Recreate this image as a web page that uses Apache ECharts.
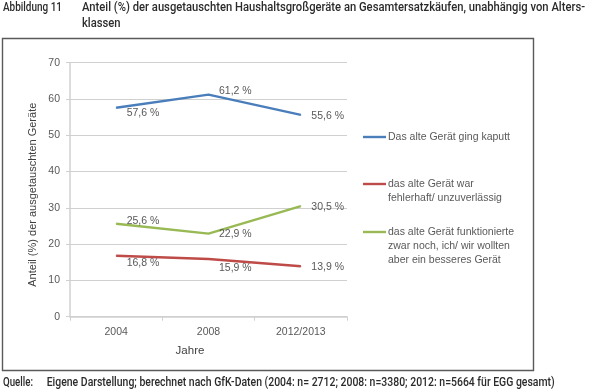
<!DOCTYPE html>
<html><head><meta charset="utf-8">
<script src="https://cdn.jsdelivr.net/npm/echarts@6/dist/echarts.min.js"></script>
<style>html,body{margin:0;padding:0;background:#fff}#c{width:595px;height:389px}</style>
</head><body><div id="c"></div>
<script>
const categories = ['2004', '2008', '2012/2013'];
const seriesNames = [
  'Das alte Gerät ging kaputt',
  'das alte Gerät war\nfehlerhaft/ unzuverlässig',
  'das alte Gerät funktionierte\nzwar noch, ich/ wir wollten\naber ein besseres Gerät'
];
const kaputt = [57.6, 61.2, 55.6];
const fehlerhaft = [16.8, 15.9, 13.9];
const besser = [25.6, 22.9, 30.5];
const yTicks = [0, 70, 10];

const colors = ['#4a7ebb', '#be4b48', '#98b954'];
const labelOffsets = [
  [[4, 5], [4, -4], [4, 1]],
  [[4, 7], [4, 9], [4, 1]],
  [[4, -3], [4, 1], [4, 1]]
];
const bodyFont = 'Liberation Sans';
const headFont = '500 13px Roboto, "DejaVu Sans", sans-serif';

const mctx = document.createElement('canvas').getContext('2d');
function fitScale(text, font, target) {
  mctx.font = font;
  return target / mctx.measureText(text).width;
}

function mkSeries(name, vals, idx) {
  return {
    name: name, type: 'line', data: vals.map((v, i) => ({
      value: v,
      label: { offset: labelOffsets[idx][i] }
    })),
    symbol: 'circle', symbolSize: 1, showSymbol: true,
    lineStyle: { color: colors[idx], width: 2.4 },
    itemStyle: { color: colors[idx] },
    label: {
      show: true, position: 'right', distance: 6,
      formatter: p => p.value.toFixed(1).replace('.', ',') + ' %',
      color: '#595959', fontFamily: bodyFont, fontSize: 10.5
    },
    emphasis: { disabled: true },
    animation: false
  };
}

const legendY = [137, 184, 232];
const legendGraphics = [];
seriesNames.forEach((n, i) => {
  legendGraphics.push({
    type: 'line', shape: { x1: 363, y1: legendY[i], x2: 386, y2: legendY[i] },
    style: { stroke: colors[i], lineWidth: 2.4 }
  });
  legendGraphics.push({
    type: 'text', x: 388, y: legendY[i] - 7,
    style: { text: n, fill: '#595959', font: '10.5px ' + bodyFont, lineHeight: 14, textVerticalAlign: 'top' }
  });
});

const titleLine1 = 'Anteil (%) der ausgetauschten Haushaltsgroßgeräte an Gesamtersatzkäufen, unabhängig von Alters-';
const titleText = titleLine1 + '\nklassen';
const sourceText = 'Eigene Darstellung; berechnet nach GfK-Daten (2004: n= 2712; 2008: n=3380; 2012: n=5664 für EGG gesamt)';
const sTitle = fitScale(titleLine1, headFont, 503);
const sAbb = fitScale('Abbildung 11', headFont, 59);
const sQ = fitScale('Quelle:', headFont, 30);
const sSrc = fitScale(sourceText, headFont, 508);

const chart = echarts.init(document.getElementById('c'), null, { renderer: 'canvas' });
chart.setOption({
  animation: false,
  backgroundColor: '#fff',
  grid: { left: 70, right: 248, top: 62.7, bottom: 72.3 },
  xAxis: {
    type: 'category', data: categories, boundaryGap: true,
    axisLine: { lineStyle: { color: '#d0d0d0', width: 1.5 } },
    axisTick: { show: true, length: 4, lineStyle: { color: '#d0d0d0' } },
    axisLabel: { color: '#595959', fontFamily: bodyFont, fontSize: 10.5, margin: 10 },
    name: 'Jahre', nameLocation: 'middle', nameGap: 28,
    nameTextStyle: { color: '#404040', fontFamily: bodyFont, fontSize: 11.5, padding: [0, 37, 0, 0] }
  },
  yAxis: {
    type: 'value', min: yTicks[0], max: yTicks[1], interval: yTicks[2],
    axisLine: { show: true, lineStyle: { color: '#d0d0d0', width: 1.5 } },
    axisTick: { show: true, length: 4, lineStyle: { color: '#d0d0d0' } },
    splitLine: { lineStyle: { color: '#d0d0d0', width: 1 } },
    axisLabel: { color: '#595959', fontFamily: bodyFont, fontSize: 10.5, margin: 10 },
    name: 'Anteil (%) der ausgetauschten Geräte', nameLocation: 'middle', nameGap: 32,
    nameTextStyle: { color: '#404040', fontFamily: bodyFont, fontSize: 11, padding: [0, 10, 0, 0] }
  },
  series: [
    mkSeries(seriesNames[0], kaputt, 0),
    mkSeries(seriesNames[1], fehlerhaft, 1),
    mkSeries(seriesNames[2], besser, 2)
  ],
  graphic: [
    { type: 'rect', shape: { x: 2.5, y: 38.5, width: 531, height: 332 }, style: { fill: 'none', stroke: '#5a5a5a', lineWidth: 1.4 }, silent: true },
    { type: 'text', x: 3, y: 0, scaleX: sAbb, style: { text: 'Abbildung 11', fill: '#2b2b2b', font: headFont, lineHeight: 15.5, textVerticalAlign: 'top' } },
    { type: 'text', x: 82, y: 0, scaleX: sTitle, style: { text: titleText, fill: '#2b2b2b', font: headFont, lineHeight: 15.5, textVerticalAlign: 'top' } },
    { type: 'text', x: 3, y: 375, scaleX: sQ, style: { text: 'Quelle:', fill: '#2b2b2b', font: headFont, lineHeight: 15, textVerticalAlign: 'top' } },
    { type: 'text', x: 46.7, y: 375, scaleX: sSrc, style: { text: sourceText, fill: '#2b2b2b', font: headFont, lineHeight: 15, textVerticalAlign: 'top' } }
  ].concat(legendGraphics)
});
</script></body></html>
